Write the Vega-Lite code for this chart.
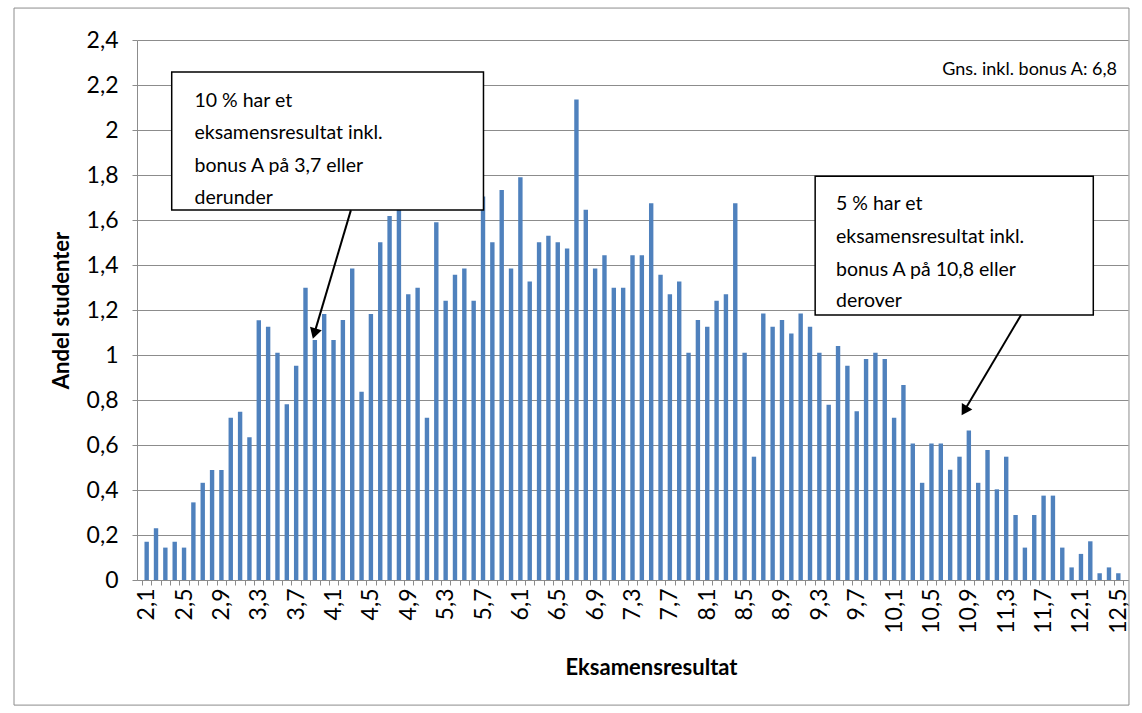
{
  "$schema": "https://vega.github.io/schema/vega-lite/v6.json",
  "width": 991,
  "height": 540,
  "autosize": "none",
  "padding": {"left": 137, "top": 40, "right": 14, "bottom": 133},
  "background": "white",
  "config": {"view": {"stroke": null}, "font": "Lato"},
  "datasets": {
    "fordeling": [
      {"resultat": 2.1, "andel": 0.170}, {"resultat": 2.2, "andel": 0.230}, {"resultat": 2.3, "andel": 0.144}, {"resultat": 2.4, "andel": 0.170}, {"resultat": 2.5, "andel": 0.144},
      {"resultat": 2.6, "andel": 0.345}, {"resultat": 2.7, "andel": 0.432}, {"resultat": 2.8, "andel": 0.489}, {"resultat": 2.9, "andel": 0.489}, {"resultat": 3.0, "andel": 0.721},
      {"resultat": 3.1, "andel": 0.748}, {"resultat": 3.2, "andel": 0.634}, {"resultat": 3.3, "andel": 1.154}, {"resultat": 3.4, "andel": 1.126}, {"resultat": 3.5, "andel": 1.010},
      {"resultat": 3.6, "andel": 0.781}, {"resultat": 3.7, "andel": 0.952}, {"resultat": 3.8, "andel": 1.299}, {"resultat": 3.9, "andel": 1.067}, {"resultat": 4.0, "andel": 1.182},
      {"resultat": 4.1, "andel": 1.067}, {"resultat": 4.2, "andel": 1.156}, {"resultat": 4.3, "andel": 1.385}, {"resultat": 4.4, "andel": 0.837}, {"resultat": 4.5, "andel": 1.182},
      {"resultat": 4.6, "andel": 1.501}, {"resultat": 4.7, "andel": 1.618}, {"resultat": 4.8, "andel": 1.660}, {"resultat": 4.9, "andel": 1.270}, {"resultat": 5.0, "andel": 1.299},
      {"resultat": 5.1, "andel": 0.721}, {"resultat": 5.2, "andel": 1.590}, {"resultat": 5.3, "andel": 1.241}, {"resultat": 5.4, "andel": 1.357}, {"resultat": 5.5, "andel": 1.385},
      {"resultat": 5.6, "andel": 1.241}, {"resultat": 5.7, "andel": 1.704}, {"resultat": 5.8, "andel": 1.501}, {"resultat": 5.9, "andel": 1.733}, {"resultat": 6.0, "andel": 1.385},
      {"resultat": 6.1, "andel": 1.790}, {"resultat": 6.2, "andel": 1.327}, {"resultat": 6.3, "andel": 1.501}, {"resultat": 6.4, "andel": 1.530}, {"resultat": 6.5, "andel": 1.501},
      {"resultat": 6.6, "andel": 1.473}, {"resultat": 6.7, "andel": 2.136}, {"resultat": 6.8, "andel": 1.646}, {"resultat": 6.9, "andel": 1.385}, {"resultat": 7.0, "andel": 1.443},
      {"resultat": 7.1, "andel": 1.299}, {"resultat": 7.2, "andel": 1.299}, {"resultat": 7.3, "andel": 1.443}, {"resultat": 7.4, "andel": 1.443}, {"resultat": 7.5, "andel": 1.674},
      {"resultat": 7.6, "andel": 1.357}, {"resultat": 7.7, "andel": 1.270}, {"resultat": 7.8, "andel": 1.327}, {"resultat": 7.9, "andel": 1.010}, {"resultat": 8.0, "andel": 1.156},
      {"resultat": 8.1, "andel": 1.126}, {"resultat": 8.2, "andel": 1.241}, {"resultat": 8.3, "andel": 1.270}, {"resultat": 8.4, "andel": 1.674}, {"resultat": 8.5, "andel": 1.010},
      {"resultat": 8.6, "andel": 0.548}, {"resultat": 8.7, "andel": 1.184}, {"resultat": 8.8, "andel": 1.126}, {"resultat": 8.9, "andel": 1.156}, {"resultat": 9.0, "andel": 1.096},
      {"resultat": 9.1, "andel": 1.184}, {"resultat": 9.2, "andel": 1.126}, {"resultat": 9.3, "andel": 1.010}, {"resultat": 9.4, "andel": 0.779}, {"resultat": 9.5, "andel": 1.040},
      {"resultat": 9.6, "andel": 0.952}, {"resultat": 9.7, "andel": 0.750}, {"resultat": 9.8, "andel": 0.982}, {"resultat": 9.9, "andel": 1.010}, {"resultat": 10.0, "andel": 0.982},
      {"resultat": 10.1, "andel": 0.721}, {"resultat": 10.2, "andel": 0.867}, {"resultat": 10.3, "andel": 0.607}, {"resultat": 10.4, "andel": 0.432}, {"resultat": 10.5, "andel": 0.607},
      {"resultat": 10.6, "andel": 0.607}, {"resultat": 10.7, "andel": 0.490}, {"resultat": 10.8, "andel": 0.548}, {"resultat": 10.9, "andel": 0.665}, {"resultat": 11.0, "andel": 0.432},
      {"resultat": 11.1, "andel": 0.578}, {"resultat": 11.2, "andel": 0.403}, {"resultat": 11.3, "andel": 0.548}, {"resultat": 11.4, "andel": 0.289}, {"resultat": 11.5, "andel": 0.144},
      {"resultat": 11.6, "andel": 0.289}, {"resultat": 11.7, "andel": 0.375}, {"resultat": 11.8, "andel": 0.375}, {"resultat": 11.9, "andel": 0.144}, {"resultat": 12.0, "andel": 0.056},
      {"resultat": 12.1, "andel": 0.116}, {"resultat": 12.2, "andel": 0.172}, {"resultat": 12.3, "andel": 0.030}, {"resultat": 12.4, "andel": 0.056}, {"resultat": 12.5, "andel": 0.030}
    ],
    "ramme": [{"x0": 0.68, "x1": 12.614, "y0": -0.556, "y1": 2.542}],
    "bokser": [
      {"x0": 2.368, "x1": 5.705, "y0": 1.644, "y1": 2.258},
      {"x0": 9.255, "x1": 12.232, "y0": 1.178, "y1": 1.795}
    ],
    "tekster": [
      {"x": 2.612, "y": 2.129, "t": "10 % har et"},
      {"x": 2.612, "y": 1.985, "t": "eksamensresultat inkl."},
      {"x": 2.612, "y": 1.840, "t": "bonus A på 3,7 eller"},
      {"x": 2.612, "y": 1.698, "t": "derunder"},
      {"x": 9.478, "y": 1.671, "t": "5 % har et"},
      {"x": 9.478, "y": 1.525, "t": "eksamensresultat inkl."},
      {"x": 9.478, "y": 1.378, "t": "bonus A på 10,8 eller"},
      {"x": 9.478, "y": 1.240, "t": "derover"}
    ],
    "piler": [
      {"x": 4.286, "y": 1.644, "x2": 3.901, "y2": 1.105},
      {"x": 11.459, "y": 1.178, "x2": 10.856, "y2": 0.756}
    ],
    "pil1": [{"x": 3.895, "y": 1.095}],
    "pil2": [{"x": 10.852, "y": 0.752}],
    "gns": [{"x": 12.486, "y": 2.267, "t": "Gns. inkl. bonus A: 6,8"}]
  },
  "resolve": {"axis": {"x": "independent", "y": "independent"}},
  "layer": [
    {
      "data": {"name": "ramme"},
      "mark": {"type": "rect", "filled": false, "fill": null, "stroke": "#8c8c8c", "strokeWidth": 1},
      "encoding": {
        "x": {"field": "x0", "type": "quantitative", "scale": {"domain": [2.05, 12.55], "nice": false, "zero": false},
          "axis": {"orient": "bottom", "values": [2.05,2.15,2.25,2.35,2.45,2.55,2.65,2.75,2.85,2.95,3.05,3.15,3.25,3.35,3.45,3.55,3.65,3.75,3.85,3.95,4.05,4.15,4.25,4.35,4.45,4.55,4.65,4.75,4.85,4.95,5.05,5.15,5.25,5.35,5.45,5.55,5.65,5.75,5.85,5.95,6.05,6.15,6.25,6.35,6.45,6.55,6.65,6.75,6.85,6.95,7.05,7.15,7.25,7.35,7.45,7.55,7.65,7.75,7.85,7.95,8.05,8.15,8.25,8.35,8.45,8.55,8.65,8.75,8.85,8.95,9.05,9.15,9.25,9.35,9.45,9.55,9.65,9.75,9.85,9.95,10.05,10.15,10.25,10.35,10.45,10.55,10.65,10.75,10.85,10.95,11.05,11.15,11.25,11.35,11.45,11.55,11.65,11.75,11.85,11.95,12.05,12.15,12.25,12.35,12.45,12.55],
            "labels": false, "domain": false, "grid": false, "ticks": true, "tickSize": 5, "tickColor": "#8c8c8c", "title": null}},
        "x2": {"field": "x1"},
        "y": {"field": "y0", "type": "quantitative", "scale": {"domain": [0, 2.4], "nice": false, "zero": false}, "axis": null},
        "y2": {"field": "y1"}
      }
    },
    {
      "data": {"name": "fordeling"},
      "mark": {"type": "bar", "color": "#4f81bd", "size": 4.4},
      "encoding": {
        "x": {"field": "resultat", "type": "quantitative",
          "axis": {"orient": "bottom", "values": [2.1,2.5,2.9,3.3,3.7,4.1,4.5,4.9,5.3,5.7,6.1,6.5,6.9,7.3,7.7,8.1,8.5,8.9,9.3,9.7,10.1,10.5,10.9,11.3,11.7,12.1,12.5],
            "labelExpr": "replace(format(datum.value, '.1f'), '.', ',')", "labelAngle": -90, "labelFontSize": 23, "labelColor": "black",
            "labelPadding": 8, "ticks": false, "tickSize": 0, "grid": false, "domain": true, "domainColor": "#8c8c8c",
            "labelOverlap": false, "labelFlush": false,
            "title": "Eksamensresultat", "titleFontSize": 22, "titleFontWeight": "bold", "titleColor": "black", "titlePadding": 24, "titleX": 514}},
        "y": {"field": "andel", "type": "quantitative",
          "axis": {"values": [0,0.2,0.4,0.6,0.8,1,1.2,1.4,1.6,1.8,2,2.2,2.4],
            "labelExpr": "replace(format(datum.value, '.1~f'), '.', ',')", "labelFontSize": 23, "labelColor": "black", "labelPadding": 14,
            "grid": true, "gridColor": "#8c8c8c", "gridWidth": 1, "domain": true, "domainColor": "#8c8c8c", "ticks": true, "tickColor": "#8c8c8c", "tickSize": 5,
            "labelFlush": false,
            "title": "Andel studenter", "titleFontSize": 22, "titleFontWeight": "bold", "titleColor": "black", "titlePadding": 13}}
      }
    },
    {
      "data": {"name": "bokser"},
      "mark": {"type": "rect", "fill": "white", "stroke": "black", "strokeWidth": 1.5},
      "encoding": {
        "x": {"field": "x0", "type": "quantitative", "axis": null},
        "x2": {"field": "x1"},
        "y": {"field": "y0", "type": "quantitative", "axis": null},
        "y2": {"field": "y1"}
      }
    },
    {
      "data": {"name": "tekster"},
      "mark": {"type": "text", "align": "left", "baseline": "middle", "fontSize": 19.5, "color": "black"},
      "encoding": {
        "x": {"field": "x", "type": "quantitative", "axis": null},
        "y": {"field": "y", "type": "quantitative", "axis": null},
        "text": {"field": "t"}
      }
    },
    {
      "data": {"name": "piler"},
      "mark": {"type": "rule", "color": "black", "strokeWidth": 2},
      "encoding": {
        "x": {"field": "x", "type": "quantitative", "axis": null},
        "y": {"field": "y", "type": "quantitative", "axis": null},
        "x2": {"field": "x2"},
        "y2": {"field": "y2"}
      }
    },
    {
      "data": {"name": "pil1"},
      "mark": {"type": "point", "shape": "triangle-up", "filled": true, "color": "black", "size": 150, "angle": 196.7, "opacity": 1},
      "encoding": {
        "x": {"field": "x", "type": "quantitative", "axis": null},
        "y": {"field": "y", "type": "quantitative", "axis": null}
      }
    },
    {
      "data": {"name": "pil2"},
      "mark": {"type": "point", "shape": "triangle-up", "filled": true, "color": "black", "size": 150, "angle": 211, "opacity": 1},
      "encoding": {
        "x": {"field": "x", "type": "quantitative", "axis": null},
        "y": {"field": "y", "type": "quantitative", "axis": null}
      }
    },
    {
      "data": {"name": "gns"},
      "mark": {"type": "text", "align": "right", "baseline": "middle", "fontSize": 18, "color": "black"},
      "encoding": {
        "x": {"field": "x", "type": "quantitative", "axis": null},
        "y": {"field": "y", "type": "quantitative", "axis": null},
        "text": {"field": "t"}
      }
    }
  ]
}
